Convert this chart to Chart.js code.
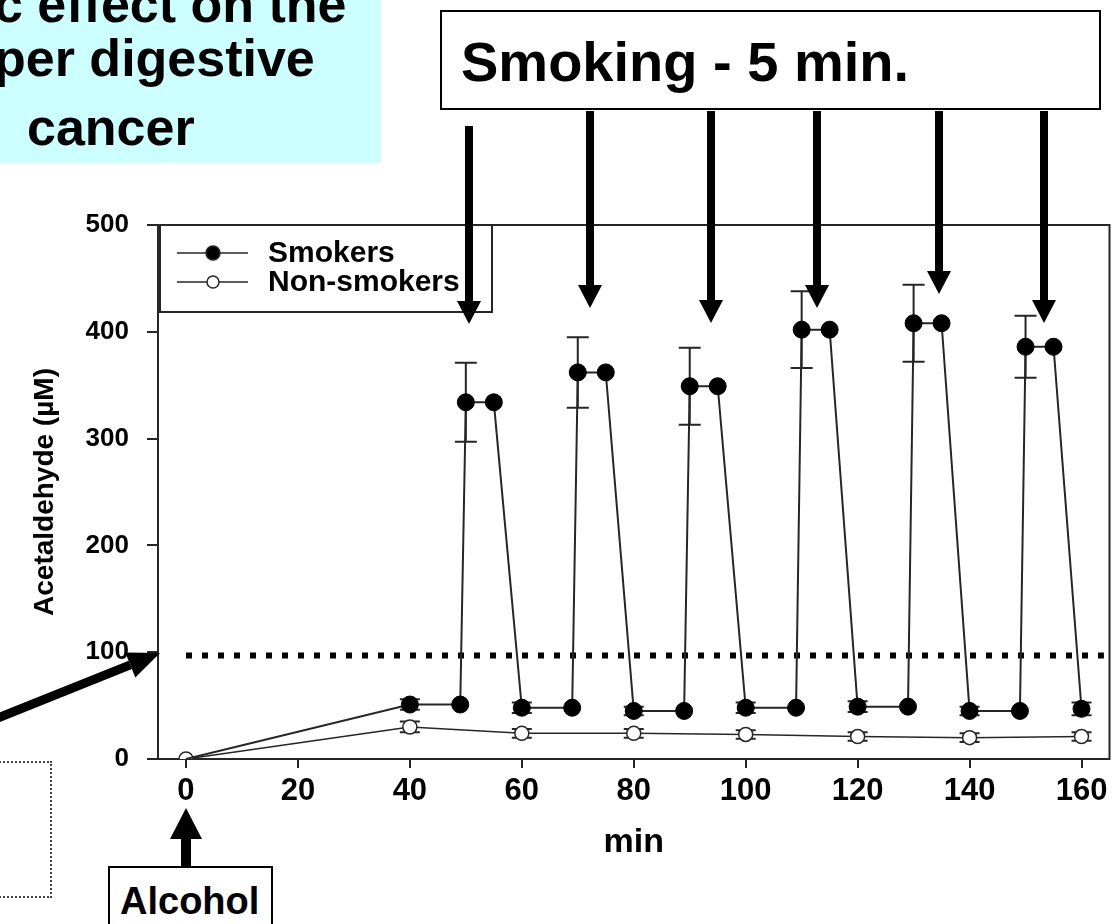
<!DOCTYPE html>
<html>
<head>
<meta charset="utf-8">
<script src="https://cdn.jsdelivr.net/npm/chart.js@4.4.1/dist/chart.umd.min.js"></script>
<style>
  body { margin: 0; background: #fff; }
  #wrap { position: relative; width: 1119px; height: 924px; overflow: hidden;
          font-family: "Liberation Sans", Arial, sans-serif; font-weight: bold; color: #000; }
  #chart { position: absolute; left: 0; top: 0; }
  .abs { position: absolute; white-space: nowrap; }
  .framed { box-sizing: border-box; border: 2px solid #000; background: #fff; }
</style>
</head>
<body>
<div id="wrap">
  <canvas id="chart" width="1119" height="924"></canvas>

  <div class="abs" style="left:0;top:0;width:381px;height:163px;background:#ccffff;overflow:hidden;">
    <span class="abs" style="left:-6px;top:-22px;font-size:52px;line-height:52px;">c effect on the</span>
    <span class="abs" style="left:-6px;top:32px;font-size:52px;line-height:52px;">per digestive</span>
    <span class="abs" style="left:27px;top:101px;font-size:52px;line-height:52px;">cancer</span>
  </div>

  <div class="abs framed" style="left:440px;top:10px;width:661px;height:100px;"></div>
  <span class="abs" style="left:461px;top:34px;font-size:56px;line-height:56px;">Smoking - 5 min.</span>

  <div class="abs framed" style="left:108px;top:866px;width:165px;height:80px;"></div>
  <span class="abs" style="left:120px;top:882px;font-size:38px;line-height:38px;">Alcohol</span>

  <div class="abs" style="left:-20px;top:761px;width:72px;height:137px;box-sizing:border-box;border:2px dotted #444;"></div>
</div>

<script>
const smokerMinutes = [0, 40, 49, 50, 55, 60, 69, 70, 75, 80, 89, 90, 95, 100, 109, 110, 115, 120, 129, 130, 135, 140, 149, 150, 155, 160];
const smokerValues  = [0, 51, 51, 334, 334, 48, 48, 362, 362, 45, 45, 349, 349, 48, 48, 402, 402, 49, 49, 408, 408, 45, 45, 386, 386, 47];
const smokerErrors  = [0, 5, 0, 37, 0, 5, 0, 33, 0, 4, 0, 36, 0, 5, 0, 36, 0, 5, 0, 36, 0, 4, 0, 29, 0, 6];

const nonSmokerMinutes = [0, 40, 60, 80, 100, 120, 140, 160];
const nonSmokerValues  = [0, 30, 24, 24, 23, 21, 20, 21];
const nonSmokerErrors  = [0, 5, 4, 4, 4, 4, 4, 4];

const thresholdMinutes = [0, 164];
const thresholdValues  = [97, 97];

const xTickValues = [0, 20, 40, 60, 80, 100, 120, 140, 160];
const yTickValues = [0, 100, 200, 300, 400, 500];

const FONT = "'Liberation Sans', Arial, sans-serif";
const INK = "#262626";

function toPoints(xs, ys) {
    return xs.map((x, i) => ({ x: x, y: ys[i] }));
}

// box round the plot area
const frame = {
    id: "frame",
    beforeDatasetsDraw(chart) {
        const { ctx, chartArea: a } = chart;
        ctx.save();
        ctx.strokeStyle = INK;
        ctx.lineWidth = 2;
        ctx.strokeRect(a.left, a.top, a.right - a.left, a.bottom - a.top);
        ctx.restore();
    }
};

// vertical error bars with caps, under the markers
const errorBars = {
    id: "errorBars",
    beforeDatasetsDraw(chart) {
        const { ctx, scales: { x, y } } = chart;
        chart.data.datasets.forEach(ds => {
            if (!ds.errors) return;
            ctx.save();
            ctx.strokeStyle = INK;
            ctx.lineWidth = 2;
            ds.data.forEach((p, i) => {
                const e = ds.errors[i];
                if (!e) return;
                const px = x.getPixelForValue(p.x);
                const top = y.getPixelForValue(p.y + e);
                const bot = y.getPixelForValue(p.y - e);
                const cap = e > 15 ? 11 : 10;
                ctx.beginPath();
                ctx.moveTo(px, top); ctx.lineTo(px, bot);
                ctx.moveTo(px - cap, top); ctx.lineTo(px + cap, top);
                ctx.moveTo(px - cap, bot); ctx.lineTo(px + cap, bot);
                ctx.stroke();
            });
            ctx.restore();
        });
    }
};

// legend box in the top-left corner of the plot
const legendBox = {
    id: "legendBox",
    afterDatasetsDraw(chart) {
        const { ctx, chartArea: a } = chart;
        const items = chart.data.datasets.filter(ds => ds.inLegend);
        ctx.save();
        ctx.fillStyle = "#fff";
        ctx.fillRect(a.left + 2, a.top, 332, 87);
        ctx.strokeStyle = INK;
        ctx.lineWidth = 2;
        ctx.strokeRect(a.left + 2, a.top, 332, 87);
        items.forEach((ds, i) => {
            const cy = a.top + 28 + i * 29;
            ctx.strokeStyle = INK;
            ctx.lineWidth = 1.5;
            ctx.beginPath();
            ctx.moveTo(a.left + 19, cy);
            ctx.lineTo(a.left + 90, cy);
            ctx.stroke();
            ctx.beginPath();
            ctx.arc(a.left + 55, cy, ds.pointBackgroundColor === "#000" ? 7 : 6, 0, Math.PI * 2);
            ctx.fillStyle = ds.pointBackgroundColor;
            ctx.fill();
            ctx.stroke();
            ctx.fillStyle = "#000";
            ctx.font = "bold 30px " + FONT;
            ctx.textBaseline = "middle";
            ctx.fillText(ds.label, a.left + 110, cy + 1);
        });
        ctx.restore();
    }
};

function arrow(ctx, x1, y1, x2, y2, shaft, headLen, headW) {
    const ang = Math.atan2(y2 - y1, x2 - x1);
    const bx = x2 - headLen * Math.cos(ang);
    const by = y2 - headLen * Math.sin(ang);
    ctx.lineWidth = shaft;
    ctx.lineCap = "butt";
    ctx.beginPath();
    ctx.moveTo(x1, y1);
    ctx.lineTo(bx, by);
    ctx.stroke();
    const nx = -Math.sin(ang) * headW / 2;
    const ny = Math.cos(ang) * headW / 2;
    ctx.beginPath();
    ctx.moveTo(x2, y2);
    ctx.lineTo(bx + nx, by + ny);
    ctx.lineTo(bx - nx, by - ny);
    ctx.closePath();
    ctx.fill();
}

// annotation arrows (picture coordinates)
const smokingArrows = [[469, 126, 324], [590, 111, 308], [711, 111, 323], [817, 111, 308], [939, 111, 294], [1044, 111, 323]];

const arrows = {
    id: "arrows",
    afterDraw(chart) {
        const ctx = chart.ctx;
        ctx.save();
        ctx.strokeStyle = "#000";
        ctx.fillStyle = "#000";
        smokingArrows.forEach(([x, top, tip]) => arrow(ctx, x, top, x, tip, 8, 23, 24));
        arrow(ctx, 186, 866, 186, 808, 10, 31, 32);
        arrow(ctx, -2, 718, 160, 653, 9, 32, 27);
        ctx.restore();
    }
};

new Chart(document.getElementById("chart"), {
    type: "line",
    data: {
        datasets: [
            {
                label: "Smokers",
                inLegend: true,
                data: toPoints(smokerMinutes, smokerValues),
                errors: smokerErrors,
                borderColor: INK,
                borderWidth: 2,
                tension: 0,
                pointRadius: c => (c.raw && c.raw.x === 0 ? 0 : 8.5),
                pointBackgroundColor: "#000",
                pointBorderColor: "#000",
                pointBorderWidth: 1
            },
            {
                label: "Non-smokers",
                inLegend: true,
                data: toPoints(nonSmokerMinutes, nonSmokerValues),
                errors: nonSmokerErrors,
                borderColor: INK,
                borderWidth: 1.5,
                tension: 0,
                pointRadius: 7,
                pointBackgroundColor: "#fff",
                pointBorderColor: INK,
                pointBorderWidth: 1.5
            },
            {
                label: "100 µM",
                data: toPoints(thresholdMinutes, thresholdValues),
                borderColor: "#000",
                borderWidth: 6,
                borderDash: [6, 10],
                borderCapStyle: "butt",
                pointRadius: 0
            }
        ]
    },
    options: {
        responsive: false,
        animation: false,
        events: [],
        layout: { padding: { top: 225, right: 2, left: 0, bottom: 0 } },
        plugins: {
            legend: { display: false },
            tooltip: { enabled: false }
        },
        scales: {
            x: {
                type: "linear",
                min: -5,
                max: 165,
                afterBuildTicks: axis => { axis.ticks = xTickValues.map(v => ({ value: v })); },
                afterFit: scale => { scale.height = 165; },
                border: { display: false },
                grid: { drawOnChartArea: false, drawTicks: true, tickLength: 9, color: INK, lineWidth: 2 },
                ticks: { padding: 5, color: "#000", autoSkip: false, maxRotation: 0,
                         font: { family: FONT, size: 31, weight: "bold" } },
                title: { display: true, text: "min", color: "#000",
                         font: { family: FONT, size: 34, weight: "bold" },
                         padding: { top: 0, bottom: 61 } }
            },
            y: {
                type: "linear",
                min: 0,
                max: 500,
                afterBuildTicks: axis => { axis.ticks = yTickValues.map(v => ({ value: v })); },
                afterFit: scale => { scale.width = 158; },
                border: { display: false },
                grid: { drawOnChartArea: false, drawTicks: true, tickLength: 11, color: INK, lineWidth: 2 },
                ticks: { padding: 18, color: "#000",
                         font: { family: FONT, size: 26, weight: "bold" } },
                title: { display: true, text: "Acetaldehyde (µM)", color: "#000",
                         font: { family: FONT, size: 28, weight: "bold" },
                         padding: { top: 28, bottom: 0 } }
            }
        }
    },
    plugins: [frame, errorBars, legendBox, arrows]
});
</script>
</body>
</html>
